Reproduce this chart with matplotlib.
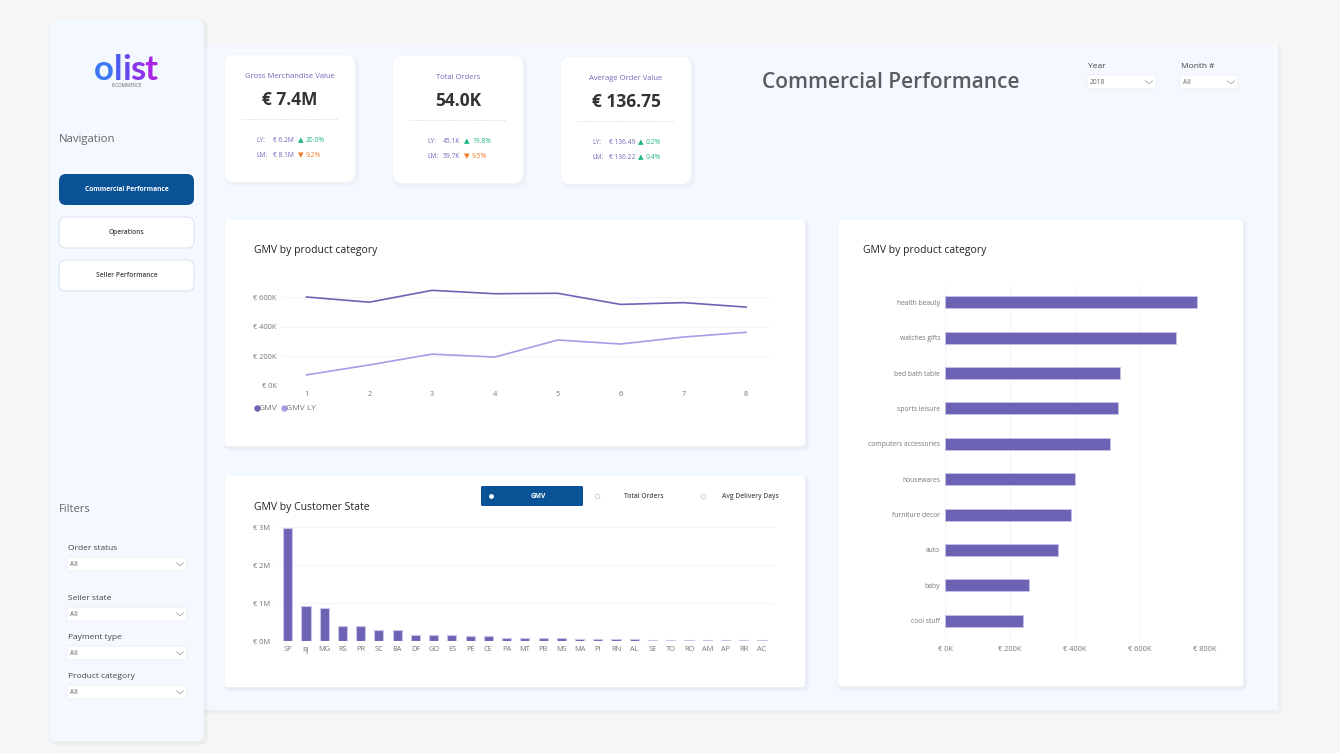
import matplotlib
matplotlib.use('Agg')
import matplotlib.pyplot as plt
from matplotlib.patches import FancyBboxPatch
from matplotlib.lines import Line2D

plt.rcParams['font.family'] = ['Open Sans', 'DejaVu Sans']

W, H = 1340, 753

months = [1, 2, 3, 4, 5, 6, 7, 8]
gmv = [600, 565, 645, 622, 625, 550, 562, 532]
gmv_ly = [75, 142, 215, 195, 310, 283, 330, 362]

states = ['SP', 'RJ', 'MG', 'RS', 'PR', 'SC', 'BA', 'DF', 'GO', 'ES', 'PE', 'CE', 'PA', 'MT',
          'PB', 'MS', 'MA', 'PI', 'RN', 'AL', 'SE', 'TO', 'RO', 'AM', 'AP', 'RR', 'AC']
state_gmv = [2.97, 0.91, 0.87, 0.39, 0.39, 0.29, 0.28, 0.17, 0.16, 0.16, 0.14, 0.12, 0.09, 0.085,
             0.07, 0.07, 0.065, 0.055, 0.05, 0.045, 0.035, 0.03, 0.03, 0.025, 0.02, 0.02, 0.02]

categories = ['health beauty', 'watches gifts', 'bed bath table', 'sports leisure',
              'computers accessories', 'housewares', 'furniture decor', 'auto', 'baby', 'cool stuff']
category_gmv = [775, 711, 539, 532, 507, 400, 388, 348, 258, 240]

PURPLE = '#6c63b5'
LILAC = '#a99be6'
EDGE = '#c9c4e8'
BLUE = '#0a5296'
GREEN = '#1db584'
ORANGE = '#f47a2a'
KPI_TXT = '#7268bb'
GREY = '#757575'
GRID = '#f5f5f5'

fig = plt.figure(figsize=(W / 100, H / 100), dpi=100, facecolor='#f6f6f6')
bg = fig.add_axes([0, 0, 1, 1], zorder=0)
bg.set_xlim(0, W)
bg.set_ylim(H, 0)
bg.axis('off')


def box(x0, y0, x1, y1, r=0, color='white', edge='none', shadow=0.0, z=1):
    # shadow first, then the box on top
    if shadow:
        for grow, a in [(3, shadow * 0.35), (1.5, shadow * 0.6)]:
            bg.add_patch(FancyBboxPatch((x0 - grow + 1.5, y0 - grow + 2), x1 - x0 + 2 * grow, y1 - y0 + 2 * grow,
                                        boxstyle=f'round,pad=0,rounding_size={r + grow}',
                                        fc='#808890', ec='none', alpha=a, zorder=z))
    bg.add_patch(FancyBboxPatch((x0, y0), x1 - x0, y1 - y0, boxstyle=f'round,pad=0,rounding_size={r}',
                                fc=color, ec=edge, lw=0.8, zorder=z))


def label(x, y, s, size=6, color='#444444', ha='left', weight='normal', **kw):
    bg.text(x, y + 0.8, s, fontsize=size, color=color, ha=ha, va='center', weight=weight, zorder=5, **kw)


def slicer(x0, x1, y0, y1, value, title):
    box(x0, y0, x1, y1, color='white', edge='#eef1f5', z=3)
    label(x0 + 3, (y0 + y1) / 2 - 0.5, value, size=4.8, color='#666666')
    cx = x1 - 7
    cy = (y0 + y1) / 2
    bg.plot([cx - 3.5, cx, cx + 3.5], [cy - 1.2, cy + 1.8, cy - 1.2], color='#9a9a9a', lw=0.5, zorder=5)
    label(x0 + 1, y0 - 9.5, title, size=6, color='#444444')


def kpi(x0, y0, title, value, ly, ly_delta, ly_up, lm, lm_delta, lm_up, lab_x, val_x, tri_x):
    box(x0, y0, x0 + 130, y0 + 127, r=9, shadow=0.06, z=2)
    label(x0 + 65, y0 + 20.5, title, size=5.5, color=KPI_TXT, ha='center')
    label(x0 + 65, y0 + 44.5, value, size=12.5, color='#333333', ha='center', weight='bold')
    bg.plot([x0 + 17, x0 + 113], [y0 + 63.5, y0 + 63.5], color='#dcd8ee', lw=0.6, ls=(0, (2, 1.5)), zorder=5)
    for row, lab, val, delta, up in [(85, 'LY:', ly, ly_delta, ly_up), (100, 'LM:', lm, lm_delta, lm_up)]:
        c = GREEN if up else ORANGE
        label(x0 + lab_x, y0 + row, lab, size=4.8, color=KPI_TXT)
        label(x0 + val_x, y0 + row, val, size=4.8, color=KPI_TXT)
        label(x0 + tri_x, y0 + row - 1, '▲' if up else '▼', size=5.2, color=c, family=['DejaVu Sans'])
        label(x0 + tri_x + 8, y0 + row, delta, size=4.8, color=c)


# panels
box(204, 45, 1278, 710, color='#f4f8ff', shadow=0.07, z=1)
box(50, 20, 204, 741, r=6, color='#f4f9ff', shadow=0.09, z=1.5)

# logo, one text per letter for the gradient
for lx, letter, c in [(94, 'o', '#3a78f2'), (113.5, 'l', '#4f5cf0'), (122.5, 'i', '#6a48ee'),
                      (130, 's', '#8a36ea'), (144, 't', '#a724e4')]:
    bg.text(lx, 80, letter, fontsize=25, color=c, family='Lato', weight='bold', ha='left', va='baseline', zorder=5)
label(127, 85, 'E-COMMERCE', size=3.4, color='#666666', ha='center')

label(59, 138.5, 'Navigation', size=8.2, color='#666666')
label(59, 508.5, 'Filters', size=8, color='#666666')

box(59, 174, 194, 205, r=7, color=BLUE, z=2)
label(126.5, 188.5, 'Commercial Performance', size=4.8, color='white', ha='center', weight='bold')
box(59, 217, 194, 248, r=7, color='white', edge='#dbe3ee', z=2)
label(126.5, 232, 'Operations', size=4.8, color='#444444', ha='center', weight='semibold')
box(59, 260, 194, 291, r=7, color='white', edge='#dbe3ee', z=2)
label(126.5, 275, 'Seller Performance', size=4.8, color='#444444', ha='center', weight='semibold')

slicer(67, 187, 557, 571, 'All', 'Order status')
slicer(67, 187, 607, 621, 'All', 'Seller state')
slicer(67, 187, 646, 660, 'All', 'Payment type')
slicer(67, 187, 685, 699, 'All', 'Product category')

# header
label(762, 82, 'Commercial Performance', size=15.05, color='#595c60', weight='semibold')
slicer(1087, 1156, 75, 89, '2018', 'Year')
slicer(1180, 1238, 75, 89, 'All', 'Month #')

# KPI cards
kpi(225, 55, 'Gross Merchandise Value', '€ 7.4M', '€ 6.2M', '20.0%', True, '€ 8.1M', '9.2%', False, 31, 48, 73)
kpi(393, 56, 'Total Orders', '54.0K', '45.1K', '19.8%', True, '59.7K', '9.5%', False, 34, 50, 71)
kpi(561, 57, 'Average Order Value', '€ 136.75', '€ 136.49', '0.2%', True, '€ 136.22', '0.4%', True, 31, 48, 77)

# chart cards
box(225, 220, 805, 446, r=3, shadow=0.09, z=2)
box(225, 476, 805, 687, r=3, shadow=0.09, z=2)
box(838, 220, 1243, 686, r=3, shadow=0.09, z=2)
label(254, 250, 'GMV by product category', size=7.5, color='#252423')
label(254, 507, 'GMV by Customer State', size=7.5, color='#252423')
label(863, 250, 'GMV by product category', size=7.5, color='#252423')

# metric switch
box(481, 486, 583, 506, r=1.5, color=BLUE, z=3)
label(538, 496, 'GMV', size=4.8, color='white', ha='center', weight='bold')
label(644, 496, 'Total Orders', size=4.8, color='#555555', ha='center', weight='semibold')
label(750, 496, 'Avg Delivery Days', size=4.8, color='#555555', ha='center', weight='semibold')
bg.scatter([491], [496], s=12, color='white', zorder=5, lw=0)
bg.scatter([597, 703], [496, 496], s=12, facecolor='white', edgecolor='#c4c4c4', lw=0.5, zorder=5)


def chart_axes(x0, y0, x1, y1):
    ax = fig.add_axes([x0 / W, 1 - y1 / H, (x1 - x0) / W, (y1 - y0) / H], zorder=2)
    ax.patch.set_alpha(0)
    for s in ax.spines.values():
        s.set_visible(False)
    ax.tick_params(length=0, labelsize=5.3, labelcolor=GREY)
    ax.set_axisbelow(True)
    return ax


# line chart, gmv in thousands
ax1 = chart_axes(282, 297, 770, 386)
ax1.plot(months, gmv, color=PURPLE, lw=1.2, clip_on=False)
ax1.plot(months, gmv_ly, color=LILAC, lw=1.2, clip_on=False)
ax1.set_xlim(0.61, 8.38)
ax1.set_ylim(0, 600)
ax1.set_yticks([0, 200, 400, 600])
ax1.set_yticklabels(['€ 0K', '€ 200K', '€ 400K', '€ 600K'])
ax1.set_xticks(months)
ax1.tick_params(axis='x', pad=3.5)
ax1.tick_params(axis='y', pad=4)
ax1.grid(axis='y', color=GRID, lw=0.8)
handles = [Line2D([], [], ls='none', marker='o', ms=3.6, color=PURPLE, label='GMV'),
           Line2D([], [], ls='none', marker='o', ms=3.6, color=LILAC, label='GMV LY')]
ax1.legend(handles=handles, loc='center left', bbox_to_anchor=(253 / W, 1 - 408.5 / H),
           bbox_transform=fig.transFigure, ncol=2, frameon=False, fontsize=6, labelcolor=GREY,
           handletextpad=-0.3, columnspacing=0.3, borderpad=0, borderaxespad=0, handlelength=1.0)

# state bars, gmv in millions
ax2 = chart_axes(278, 527, 774, 641)
ax2.bar(range(len(states)), state_gmv, width=0.5, color=PURPLE, edgecolor=EDGE, lw=0.8)
ax2.set_xlim(-0.534, 26.66)
ax2.set_ylim(0, 3)
ax2.set_yticks([0, 1, 2, 3])
ax2.set_yticklabels(['€ 0M', '€ 1M', '€ 2M', '€ 3M'])
ax2.set_xticks(range(len(states)))
ax2.set_xticklabels(states)
ax2.tick_params(axis='x', pad=3.5)
ax2.tick_params(axis='y', pad=5.9)
ax2.grid(axis='y', color=GRID, lw=0.8)

# category bars, gmv in thousands
ax3 = chart_axes(945, 284.5, 1205, 638.5)
ypos = range(len(categories))
ax3.barh(ypos, category_gmv, height=0.34, color=PURPLE, edgecolor=EDGE, lw=0.6)
ax3.set_ylim(len(categories) - 0.5, -0.5)
ax3.set_xlim(0, 800)
ax3.set_yticks(ypos)
ax3.set_yticklabels(categories, fontsize=4.9)
ax3.set_xticks([0, 200, 400, 600, 800])
ax3.set_xticklabels(['€ 0K', '€ 200K', '€ 400K', '€ 600K', '€ 800K'])
ax3.tick_params(axis='x', pad=5.3)
ax3.tick_params(axis='y', pad=3.5)
ax3.grid(axis='x', color=GRID, lw=0.8)

fig.savefig('out.png', dpi=100, facecolor=fig.get_facecolor())
